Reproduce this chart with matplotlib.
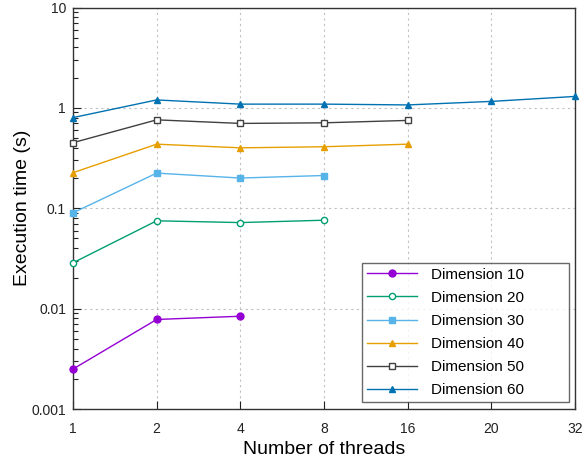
import matplotlib
matplotlib.use("Agg")
import matplotlib.pyplot as plt
from matplotlib.ticker import FixedLocator, FixedFormatter, LogLocator, NullFormatter

plt.rcParams['font.family'] = ['Liberation Sans', 'DejaVu Sans']

# thread counts, drawn at evenly spaced positions
threads = [1, 2, 4, 8, 16, 20, 32]

# execution time (s) per problem dimension
dim10 = [0.0025, 0.0078, 0.0084]
dim20 = [0.0286, 0.075, 0.072, 0.076]
dim30 = [0.090, 0.224, 0.200, 0.212]
dim40 = [0.226, 0.435, 0.400, 0.410, 0.435]
dim50 = [0.45, 0.76, 0.70, 0.71, 0.75]
dim60 = [0.80, 1.20, 1.09, 1.09, 1.07, 1.16, 1.30]

series = [
    ("Dimension 10", dim10, '#9400d3', 'o', True),
    ("Dimension 20", dim20, '#009e73', 'o', False),
    ("Dimension 30", dim30, '#56b4e9', 's', True),
    ("Dimension 40", dim40, '#e69f00', '^', True),
    ("Dimension 50", dim50, '#404040', 's', False),
    ("Dimension 60", dim60, '#0072b2', '^', True),
]

fig = plt.figure(figsize=(5.82, 4.63), dpi=100)
ax = fig.add_axes([0.1254, 0.1166, 0.8626, 0.8672])

for label, vals, color, marker, filled in series:
    x = list(range(len(vals)))
    ax.plot(x, vals, color=color, linewidth=1.0, marker=marker,
            markersize=5 if marker != 'o' or filled else 4.5,
            markerfacecolor=color if filled else 'white',
            markeredgecolor=color, markeredgewidth=1.0,
            label=label, clip_on=False, zorder=3)

ax.set_yscale('log')
ax.set_ylim(0.001, 10)
ax.set_xlim(0, len(threads) - 1)

ax.xaxis.set_major_locator(FixedLocator(range(len(threads))))
ax.xaxis.set_major_formatter(FixedFormatter([str(t) for t in threads]))
ax.yaxis.set_major_locator(FixedLocator([0.001, 0.01, 0.1, 1, 10]))
ax.yaxis.set_major_formatter(FixedFormatter(['0.001', '0.01', '0.1', '1', '10']))
ax.yaxis.set_minor_locator(LogLocator(base=10, subs=range(2, 10)))
ax.yaxis.set_minor_formatter(NullFormatter())

ax.tick_params(which='both', direction='in', top=False, right=False,
               labelsize=10, colors='#222222')
ax.tick_params(which='major', length=6, width=0.8, pad=5)
ax.tick_params(which='minor', length=3.5, width=0.8)
ax.tick_params(axis='x', pad=9)

for s in ax.spines.values():
    s.set_color('#333333')
    s.set_linewidth(1.0)

ax.grid(True, which='major', linestyle=(0, (2, 3)), color='#c0c0c0', linewidth=0.8)
ax.set_axisbelow(True)

ax.set_xlabel('Number of threads', fontsize=14, labelpad=4)
ax.set_ylabel('Execution time (s)', fontsize=14, labelpad=0.5)

# legend box stretched over the lower right corner
leg = ax.legend(loc='lower left', mode='expand', fontsize=11, handlelength=3.3,
                frameon=True, fancybox=False, edgecolor='#444444',
                borderpad=0.3, labelspacing=0.6, handletextpad=0.9,
                borderaxespad=0, bbox_to_anchor=(0.576, 0.0174, 0.412, 0.341))
leg.get_frame().set_linewidth(1.0)

fig.savefig('out.png', dpi=100)
